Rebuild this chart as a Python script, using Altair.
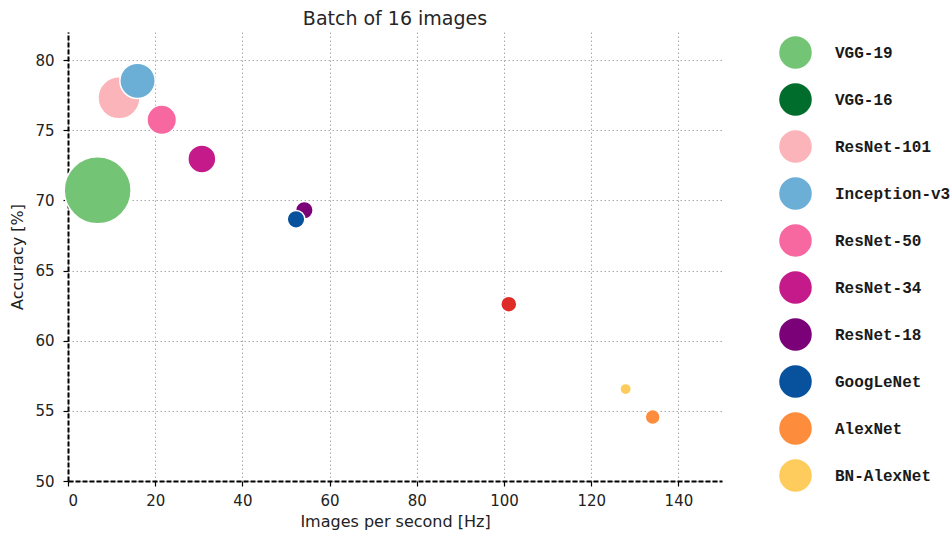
import altair as alt
import pandas as pd

# ---- data ----
models = ["VGG-16", "VGG-19", "ResNet-101", "Inception-v3", "ResNet-50",
          "ResNet-34", "ResNet-18", "GoogLeNet", "ENet", "AlexNet", "BN-AlexNet"]
speed = [6.9, 6.8, 11.7, 15.95, 21.5, 30.7, 54.2, 52.3, 101.1, 134.1, 127.9]      # images / s
accuracy = [70.8, 70.72, 77.31, 78.52, 75.74, 72.95, 69.30, 68.65, 62.6, 54.56, 56.55]  # %
bubble = [15.5, 20.0, 7.9, 5.6, 3.9, 3.5, 1.39, 1.39, 1.15, 1.0, 0.58]            # relative bubble area

legend_models = ["VGG-19", "VGG-16", "ResNet-101", "Inception-v3", "ResNet-50",
                 "ResNet-34", "ResNet-18", "GoogLeNet", "AlexNet", "BN-AlexNet"]
color_domain = legend_models + ["ENet"]
color_range = ["#74c476", "#006d2c", "#fbb4b9", "#6baed6", "#f768a1",
               "#c51b8a", "#7a0177", "#08519c", "#fd8d3c", "#fecc5c", "#de2d26"]

x_ticks = [0, 20, 40, 60, 80, 100, 120, 140]
y_ticks = [50, 55, 60, 65, 70, 75, 80]

df = pd.DataFrame({
    "model": models,
    "speed": speed,
    "accuracy": accuracy,
    "bubble": bubble,
    "draw": list(range(len(models))),
})

W, H = 654, 449

points = alt.Chart(df).mark_circle(opacity=1, stroke="white", strokeWidth=1.5).encode(
    x=alt.X("speed:Q",
            scale=alt.Scale(domain=[0, 150], nice=False, zero=False),
            axis=alt.Axis(values=x_ticks, title="Images per second [Hz]",
                          labelPadding=7, titlePadding=5)),
    y=alt.Y("accuracy:Q",
            scale=alt.Scale(domain=[50, 82], nice=False, zero=False),
            axis=alt.Axis(values=y_ticks, title="Accuracy [%]",
                          labelPadding=9, titlePadding=9)),
    size=alt.Size("bubble:Q", scale=alt.Scale(domain=[0, 20], range=[0, 4477], zero=True),
                  legend=None),
    color=alt.Color("model:N",
                    scale=alt.Scale(domain=color_domain, range=color_range),
                    legend=alt.Legend(values=legend_models, title=None, orient="none",
                                      legendX=711, legendY=4,
                                      symbolType="circle", symbolSize=1058,
                                      symbolStrokeWidth=0, symbolOpacity=1,
                                      rowPadding=14, labelOffset=23, padding=0,
                                      labelFont="Liberation Mono", labelFontSize=16,
                                      labelFontWeight="bold",
                                      labelColor="#1a1a1a", labelLimit=300)),
    order=alt.Order("draw:Q"),
)

chart = points.properties(
    width=W, height=H,
    title=alt.TitleParams("Batch of 16 images", font="DejaVu Sans", fontSize=19,
                          fontWeight="normal", color="#262626", anchor="middle",
                          baseline="alphabetic", offset=4, frame="group", dy=16),
    autosize=alt.AutoSizeParams(type="none"),
    padding={"left": 68, "top": 32, "right": 230, "bottom": 55},
    background="white",
).configure_view(stroke=None).configure_axis(
    domainColor="black", domainWidth=2, domainDash=[5, 2],
    tickColor="black", tickSize=5, tickWidth=1.2,
    labelFont="DejaVu Sans", labelFontSize=15, labelColor="#222222",
    titleFont="DejaVu Sans", titleFontSize=16, titleFontWeight="normal", titleColor="#222222",
    gridColor="#a8a8a8", gridDash=[1.5, 2.5], gridWidth=1,
)

chart.save("out.html", embed_options={"renderer": "svg", "actions": False})
